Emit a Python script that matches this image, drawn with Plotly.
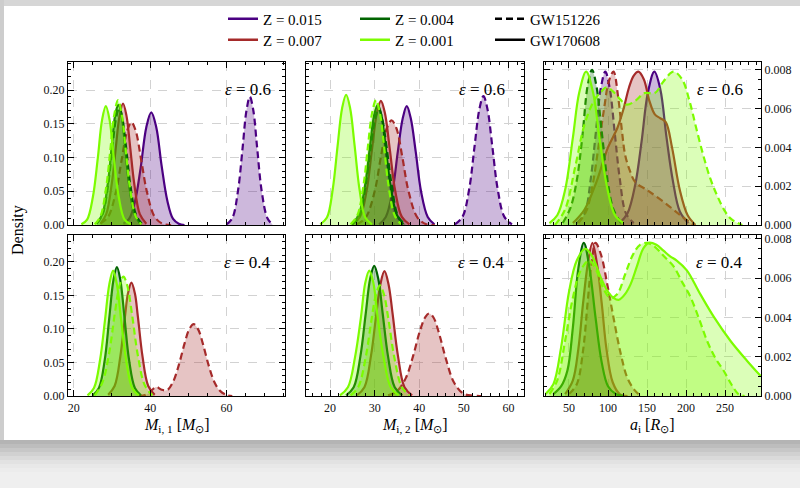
import plotly.graph_objects as go

# ---------------------------------------------------------------------------
# KDE curves, sampled as (x, density) pairs.
# panel keys: m1 = M_i,1, m2 = M_i,2, a = a_i ; e6 / e4 = epsilon 0.6 / 0.4
# metallicity keys: z015, z007, z004, z001 ; d = GW151226, s = GW170608
# ---------------------------------------------------------------------------

# ---- M_i,1, epsilon = 0.6 ----
m1_e6_z015_s_x = [33, 34.5, 36, 37.5, 39, 40.3, 41.6, 43, 44.5, 46, 47.5, 49]
m1_e6_z015_s_y = [0.002, 0.009, 0.034, 0.084, 0.145, 0.167, 0.145, 0.088, 0.036, 0.009, 0.002, 0.0]
m1_e6_z015_d_x = [60, 61.5, 63, 64.2, 65.2, 66.1, 67, 68, 69.2, 70.7, 72]
m1_e6_z015_d_y = [0.001, 0.010, 0.051, 0.114, 0.169, 0.190, 0.170, 0.115, 0.050, 0.010, 0.001]
m1_e6_z007_s_x = [27, 28.5, 30, 31, 32, 32.9, 33.8, 34.8, 35.8, 37.3, 39]
m1_e6_z007_s_y = [0.002, 0.016, 0.063, 0.114, 0.162, 0.180, 0.162, 0.114, 0.063, 0.016, 0.002]
m1_e6_z007_d_x = [27, 29, 31, 32.5, 34, 35.1, 36.2, 37.7, 39.2, 41.2, 43.2, 45.5]
m1_e6_z007_d_y = [0.002, 0.012, 0.048, 0.095, 0.140, 0.152, 0.140, 0.095, 0.048, 0.012, 0.002, 0.0]
m1_e6_z004_s_x = [26, 27.5, 29, 30, 31, 31.7, 32.4, 33.4, 34.4, 35.9, 37.4]
m1_e6_z004_s_y = [0.002, 0.016, 0.064, 0.119, 0.167, 0.178, 0.167, 0.119, 0.064, 0.016, 0.002]
m1_e6_z004_d_x = [26, 27.5, 29, 30.2, 31.1, 31.9, 32.7, 33.6, 34.8, 36.3, 37.8]
m1_e6_z004_d_y = [0.002, 0.015, 0.060, 0.120, 0.159, 0.173, 0.159, 0.120, 0.060, 0.015, 0.002]
m1_e6_z001_s_x = [22, 23.5, 25, 26.3, 27.4, 28.4, 29.4, 30.5, 31.8, 33.3, 35]
m1_e6_z001_s_y = [0.001, 0.008, 0.041, 0.099, 0.155, 0.176, 0.155, 0.099, 0.041, 0.008, 0.001]
m1_e6_z001_d_x = [25.5, 27, 28.5, 29.6, 30.6, 31.6, 32.6, 33.6, 34.7, 36.2, 37.7]
m1_e6_z001_d_y = [0.001, 0.013, 0.056, 0.112, 0.163, 0.185, 0.163, 0.112, 0.056, 0.013, 0.001]

# ---- M_i,2, epsilon = 0.6 ----
m2_e6_z015_s_x = [31, 32.5, 34, 35.2, 36.3, 37.2, 38.1, 39.2, 40.4, 41.9, 43.4]
m2_e6_z015_s_y = [0.001, 0.012, 0.050, 0.109, 0.158, 0.176, 0.158, 0.109, 0.050, 0.012, 0.001]
m2_e6_z015_d_x = [48, 49.7, 51.2, 52.4, 53.5, 54.4, 55.3, 56.4, 57.6, 59.1, 60.8]
m2_e6_z015_d_y = [0.001, 0.012, 0.053, 0.116, 0.172, 0.191, 0.172, 0.116, 0.053, 0.012, 0.001]
m2_e6_z007_s_x = [25, 26.7, 28.2, 29.4, 30.5, 31.4, 32.3, 33.4, 34.6, 36.1, 37.8]
m2_e6_z007_s_y = [0.001, 0.012, 0.051, 0.112, 0.166, 0.184, 0.166, 0.112, 0.051, 0.012, 0.001]
m2_e6_z007_d_x = [26, 28, 30, 31.4, 32.7, 33.8, 34.9, 36.2, 37.6, 39.6, 41.6, 43.5]
m2_e6_z007_d_y = [0.001, 0.011, 0.050, 0.101, 0.143, 0.155, 0.143, 0.101, 0.050, 0.011, 0.001, 0.0]
m2_e6_z004_s_x = [25, 26.5, 28, 29, 29.9, 30.7, 31.5, 32.4, 33.4, 34.9, 36.4]
m2_e6_z004_s_y = [0.001, 0.016, 0.065, 0.119, 0.163, 0.178, 0.163, 0.119, 0.065, 0.016, 0.001]
m2_e6_z004_d_x = [24.9, 26.5, 28, 29.2, 30.1, 30.9, 31.7, 32.6, 33.8, 35.3, 36.9]
m2_e6_z004_d_y = [0.001, 0.012, 0.060, 0.119, 0.157, 0.172, 0.157, 0.119, 0.060, 0.012, 0.001]
m2_e6_z001_s_x = [17.8, 19.3, 20.6, 21.7, 22.7, 23.6, 24.5, 25.5, 26.6, 27.9, 29.4]
m2_e6_z001_s_y = [0.001, 0.011, 0.053, 0.118, 0.173, 0.193, 0.173, 0.118, 0.053, 0.011, 0.001]
m2_e6_z001_d_x = [24.6, 26.1, 27.5, 28.5, 29.4, 30.3, 31.2, 32.1, 33.1, 34.5, 36]
m2_e6_z001_d_y = [0.001, 0.014, 0.059, 0.117, 0.165, 0.185, 0.165, 0.117, 0.059, 0.014, 0.001]

# ---- a_i, epsilon = 0.6 ----
a_e6_z015_s_x = [115, 125, 135, 143, 151, 159.4, 167, 175, 183, 192, 203]
a_e6_z015_s_y = [0.0001, 0.0006, 0.0021, 0.0043, 0.0068, 0.0079, 0.0070, 0.0045, 0.0023, 0.0007, 0.0001]
a_e6_z015_d_x = [60, 70, 78, 84, 91, 96.5, 102, 109, 115, 123, 133]
a_e6_z015_d_y = [0.0001, 0.0006, 0.0024, 0.0046, 0.0071, 0.0079, 0.0071, 0.0046, 0.0024, 0.0006, 0.0001]
a_e6_z007_s_x = [55, 70, 85, 100, 112, 120, 127, 133, 139, 146, 153, 160, 167, 174, 182, 192, 202, 212]
a_e6_z007_s_y = [0.0001, 0.0008, 0.0022, 0.0040, 0.0050, 0.0060, 0.0071, 0.0077, 0.0079, 0.0075,
                 0.0064, 0.0057, 0.0055, 0.0053, 0.0040, 0.0018, 0.0005, 0.0]
a_e6_z007_d_x = [62, 72, 80, 88, 95, 101, 107, 113, 118, 122, 128, 135, 150, 171, 193, 210]
a_e6_z007_d_y = [0.0001, 0.0007, 0.0020, 0.0041, 0.0060, 0.0074, 0.0079, 0.0066, 0.0048, 0.0036,
                 0.0028, 0.0022, 0.0018, 0.0012, 0.0005, 0.0]
a_e6_z004_d_x = [42, 52, 60, 67, 74, 79.5, 85, 92, 99, 107, 117]
a_e6_z004_d_y = [0.0001, 0.0009, 0.0023, 0.0045, 0.0072, 0.0080, 0.0072, 0.0048, 0.0024, 0.0008, 0.0001]
a_e6_z001_s_x = [25, 35, 45, 55, 63, 72, 81, 89, 99, 109, 120]
a_e6_z001_s_y = [0.0001, 0.0005, 0.0018, 0.0045, 0.0068, 0.0079, 0.0068, 0.0045, 0.0019, 0.0005, 0.0001]
a_e6_z001_d_x = [32, 45, 58, 70, 82, 92, 98, 106, 115, 124, 135, 147, 160, 171, 184, 195,
                 205, 213, 222, 231, 240, 250, 258, 272]
a_e6_z001_d_y = [0.0, 0.0008, 0.0030, 0.0052, 0.0064, 0.0069, 0.0071, 0.0069, 0.0065, 0.0062,
                 0.0064, 0.0068, 0.0068, 0.0074, 0.0079, 0.0075, 0.0063, 0.0050, 0.0036, 0.0024,
                 0.0015, 0.0007, 0.0003, 0.0]

# ---- M_i,1, epsilon = 0.4 ----
m1_e4_z007_s_x = [29, 30.7, 32.2, 33.4, 34.2, 35.1, 36, 36.8, 38, 39.5, 41.2]
m1_e4_z007_s_y = [0.002, 0.015, 0.059, 0.118, 0.153, 0.169, 0.153, 0.118, 0.059, 0.015, 0.002]
m1_e4_z007_d_x = [37, 39, 40.5, 41.6, 43, 44.5, 46, 47.5, 49, 50.2, 51.4, 52.6, 53.8, 55.3,
                  56.8, 58.3, 60, 61.5]
m1_e4_z007_d_y = [0.0, 0.002, 0.009, 0.0135, 0.0093, 0.0088, 0.021, 0.046, 0.078, 0.099, 0.107,
                  0.099, 0.078, 0.046, 0.021, 0.0076, 0.0015, 0.0]
m1_e4_z004_s_x = [25, 26.6, 28.1, 29.3, 30.4, 31.3, 32.2, 33.3, 34.5, 36, 37.6]
m1_e4_z004_s_y = [0.001, 0.012, 0.053, 0.116, 0.173, 0.192, 0.173, 0.116, 0.053, 0.012, 0.001]
m1_e4_z001_s_x = [23.6, 25.3, 26.9, 28.2, 29.3, 30.3, 31.3, 32.4, 33.7, 35.3, 37]
m1_e4_z001_s_y = [0.001, 0.012, 0.054, 0.114, 0.166, 0.187, 0.166, 0.114, 0.054, 0.012, 0.001]
m1_e4_z001_d_x = [25.5, 27.5, 29.3, 30.8, 32, 33, 34, 35.3, 36.8, 38.6, 40.6]
m1_e4_z001_d_y = [0.001, 0.020, 0.065, 0.125, 0.165, 0.178, 0.165, 0.120, 0.060, 0.016, 0.001]

# ---- M_i,2, epsilon = 0.4 ----
m2_e4_z007_s_x = [26, 27.7, 29.2, 30.4, 31.3, 32.2, 33.1, 34, 35.2, 36.7, 38.4]
m2_e4_z007_s_y = [0.001, 0.013, 0.061, 0.124, 0.167, 0.186, 0.167, 0.124, 0.061, 0.013, 0.001]
m2_e4_z007_d_x = [33, 35, 37, 38.6, 40.2, 41.4, 42.2, 43.2, 44.5, 46, 47.8, 49.8, 52, 54]
m2_e4_z007_d_y = [0.001, 0.007, 0.027, 0.059, 0.098, 0.118, 0.123, 0.117, 0.092, 0.055, 0.020,
                  0.004, 0.0005, 0.0]
m2_e4_z004_s_x = [23.6, 25.3, 26.8, 28, 29, 29.9, 30.8, 31.8, 33, 34.5, 36.2]
m2_e4_z004_s_y = [0.001, 0.013, 0.059, 0.123, 0.175, 0.194, 0.175, 0.123, 0.059, 0.013, 0.001]
m2_e4_z001_s_x = [22.2, 24, 25.6, 26.9, 27.9, 28.8, 29.7, 30.7, 32, 33.6, 35.4]
m2_e4_z001_s_y = [0.001, 0.013, 0.058, 0.116, 0.169, 0.187, 0.169, 0.116, 0.058, 0.013, 0.001]
m2_e4_z001_d_x = [24.6, 26.3, 28, 29.3, 30.3, 31.2, 32.1, 33.1, 34.4, 36.1, 37.8]
m2_e4_z001_d_y = [0.001, 0.013, 0.058, 0.114, 0.151, 0.165, 0.151, 0.114, 0.058, 0.013, 0.001]

# ---- a_i, epsilon = 0.4 ----
a_e4_z007_s_x = [45, 55, 62, 68, 74, 80, 86, 92, 98, 106, 115, 125]
a_e4_z007_s_y = [0.0001, 0.0008, 0.0024, 0.0047, 0.0067, 0.0078, 0.0067, 0.0047, 0.0024, 0.0007, 0.0001, 0.0]
a_e4_z007_d_x = [50, 60, 68, 74, 79, 84, 91, 99, 107, 116, 125, 134, 142]
a_e4_z007_d_y = [0.0001, 0.0006, 0.0023, 0.0048, 0.0068, 0.0078, 0.0072, 0.0057, 0.0040, 0.0022,
                 0.0009, 0.0003, 0.0]
a_e4_z004_s_x = [30, 40, 48, 55, 62, 69, 76, 84, 92, 100, 110, 120]
a_e4_z004_s_y = [0.0001, 0.0005, 0.0013, 0.0035, 0.0065, 0.0078, 0.0066, 0.0040, 0.0017, 0.0005, 0.0001, 0.0]
a_e4_z001_s_x = [20, 30, 40, 50, 60, 71, 80, 90, 100, 107, 114, 122, 129, 137, 145, 152, 162,
                 171, 180, 188, 201, 218, 236, 257, 278, 296]
a_e4_z001_s_y = [0.0001, 0.0006, 0.0025, 0.0053, 0.0069, 0.0075, 0.0071, 0.0061, 0.0053, 0.0050,
                 0.0049, 0.0052, 0.0057, 0.0066, 0.0075, 0.0078, 0.0077, 0.0074, 0.0071, 0.0069,
                 0.0064, 0.0052, 0.0040, 0.0028, 0.0018, 0.0010]
a_e4_z001_d_x = [25, 35, 45, 55, 65, 76, 85, 95, 103, 112, 122, 132, 141, 150, 160, 172, 184,
                 195, 205, 216, 227, 238, 248, 258, 267, 275]
a_e4_z001_d_y = [0.0001, 0.0008, 0.0028, 0.0050, 0.0064, 0.0069, 0.0064, 0.0054, 0.0050, 0.0052,
                 0.0062, 0.0072, 0.0077, 0.0078, 0.0076, 0.0071, 0.0066, 0.0058, 0.0051, 0.0040,
                 0.0028, 0.0019, 0.0013, 0.0006, 0.0001, 0.0]

# legend / category labels
z_keys = ["z015", "z007", "z004", "z001"]
z_labels = ["Z = 0.015", "Z = 0.007", "Z = 0.004", "Z = 0.001"]
event_labels = ["GW151226", "GW170608"]
eps_labels = ["0.6", "0.4"]
x_titles = ["<i>M</i><sub>i, 1</sub> [<i>M</i><sub>⊙</sub>]",
            "<i>M</i><sub>i, 2</sub> [<i>M</i><sub>⊙</sub>]",
            "<i>a</i><sub>i</sub> [<i>R</i><sub>⊙</sub>]"]

# ---------------------------------------------------------------------------
# styling
# ---------------------------------------------------------------------------
W, H = 800, 488
SERIF = "Liberation Serif, Times New Roman, serif"
z_colors = {"z015": (75, 0, 130), "z007": (165, 42, 42), "z004": (0, 100, 0), "z001": (124, 252, 0)}
FILL_ALPHA = 0.28


def rgba(c, a=1.0):
    return "rgba(%d,%d,%d,%.3f)" % (c[0], c[1], c[2], a)


def fx(p):          # pixel -> paper x
    return p / W


def fy(p):          # pixel -> paper y
    return 1 - p / H


col_px = [(68, 285), (306, 524), (544, 761)]
row_px = [(62, 225), (235, 396)]

# panel name -> (row, col)
panels = {"m1_e6": (0, 0), "m2_e6": (0, 1), "a_e6": (0, 2),
          "m1_e4": (1, 0), "m2_e4": (1, 1), "a_e4": (1, 2)}

g = globals()
fig = go.Figure()

for pname, (r, c) in panels.items():
    idx = r * 3 + c + 1
    xa = "x" if idx == 1 else "x%d" % idx
    ya = "y" if idx == 1 else "y%d" % idx
    for zk in z_keys:
        for ev in ["d", "s"]:
            key = "%s_%s_%s" % (pname, zk, ev)
            if key + "_x" not in g:
                continue
            col = z_colors[zk]
            fig.add_trace(go.Scatter(
                x=g[key + "_x"], y=g[key + "_y"], xaxis=xa, yaxis=ya,
                mode="lines", line=dict(color=rgba(col), width=2.2, shape="spline", smoothing=1.0,
                                        dash="7px,4px" if ev == "d" else "solid"),
                fill="tozeroy", fillcolor=rgba(col, FILL_ALPHA),
                showlegend=False, hoverinfo="skip"))

# legend entries: one single-item legend per slot (3 columns x 2 rows)
legend_items = [
    (z_labels[0], rgba(z_colors["z015"]), "solid", 223, 19),
    (z_labels[1], rgba(z_colors["z007"]), "solid", 223, 40),
    (z_labels[2], rgba(z_colors["z004"]), "solid", 355, 19),
    (z_labels[3], rgba(z_colors["z001"]), "solid", 355, 40),
    (event_labels[0], "black", "7px,4px", 490, 19),
    (event_labels[1], "black", "solid", 490, 40),
]
legend_layout = {}
for i, (name, colr, dash, lx, ly) in enumerate(legend_items):
    lg = "legend" if i == 0 else "legend%d" % (i + 1)
    fig.add_trace(go.Scatter(x=[None], y=[None], mode="lines", name=name, legend=lg,
                             line=dict(color=colr, width=2.5, dash=dash)))
    legend_layout[lg] = dict(orientation="v", xanchor="left", yanchor="middle",
                             x=fx(lx), y=fy(ly), bgcolor="rgba(0,0,0,0)",
                             font=dict(family=SERIF, size=15, color="black"),
                             itemwidth=30, borderwidth=0)

# axes
xranges = [[18.5, 75.3], [14.6, 63.5], [18, 296]]
xdticks = [20, 10, 50]
xminor = [5, 2, 10]
yranges = [[[0, 0.2415], [0, 0.2415], [0, 0.0084]],
           [[0, 0.24], [0, 0.24], [0, 0.0082]]]

tickfont = dict(family=SERIF, size=12, color="#111")
layout_axes = {}
for r in range(2):
    for c in range(3):
        idx = r * 3 + c + 1
        xn = "xaxis" if idx == 1 else "xaxis%d" % idx
        yn = "yaxis" if idx == 1 else "yaxis%d" % idx
        xa = "x" if idx == 1 else "x%d" % idx
        ya = "y" if idx == 1 else "y%d" % idx
        common = dict(showline=True, linecolor="black", linewidth=1.3, mirror="allticks",
                      ticks="inside", ticklen=6, tickwidth=1, tickcolor="black",
                      showgrid=True, gridcolor="#d2d2d2", griddash="dash", gridwidth=0.8,
                      zeroline=False, automargin=False, tickfont=tickfont)
        layout_axes[xn] = dict(common, anchor=ya, domain=[fx(col_px[c][0]), fx(col_px[c][1])],
                               range=xranges[c], dtick=xdticks[c], tick0=0,
                               showticklabels=(r == 1),
                               minor=dict(dtick=xminor[c], tick0=0, ticks="inside", ticklen=3,
                                          tickcolor="black", showgrid=False))
        right = (c == 2)
        layout_axes[yn] = dict(common, anchor=xa,
                               domain=[fy(row_px[r][1]), fy(row_px[r][0])],
                               range=yranges[r][c],
                               dtick=0.002 if right else 0.05, tick0=0,
                               tickformat=".3f" if right else ".2f",
                               side="right" if right else "left",
                               showticklabels=(c != 1),
                               minor=dict(dtick=0.0005 if right else 0.01, tick0=0, ticks="inside",
                                          ticklen=3, tickcolor="black", showgrid=False))

annotations = []
# epsilon labels inside each panel
eps_xpos = [0.945, 0.922, 0.926]
for r in range(2):
    for c in range(3):
        idx = r * 3 + c + 1
        suffix = "" if idx == 1 else str(idx)
        annotations.append(dict(
            text="<i>ε</i> = " + eps_labels[r], xref="x%s domain" % suffix, yref="y%s domain" % suffix,
            x=eps_xpos[c], y=0.83, xanchor="right", yanchor="middle", showarrow=False,
            font=dict(family=SERIF, size=17, color="black")))
# axis titles
for c in range(3):
    annotations.append(dict(text=x_titles[c], xref="paper", yref="paper",
                            x=fx((col_px[c][0] + col_px[c][1]) / 2), y=fy(425),
                            xanchor="center", yanchor="middle", showarrow=False,
                            font=dict(family=SERIF, size=16, color="black")))
annotations.append(dict(text="Density", xref="paper", yref="paper", x=fx(18), y=fy(230),
                        textangle=-90, xanchor="center", yanchor="middle", showarrow=False,
                        font=dict(family=SERIF, size=16, color="black")))

# card shadow around the figure
shapes = []


def band(x0, y0, x1, y1, color):
    shapes.append(dict(type="rect", xref="paper", yref="paper", x0=fx(x0), x1=fx(x1),
                       y0=fy(y1), y1=fy(y0), fillcolor=color, line=dict(width=0), layer="below"))


band(0, 0, W, 6, "#d6d6d6")
band(0, 0, 4, 440, "#cdcdcd")
shade = ["#b4b4b4", "#bdbdbd", "#c7c7c7", "#d1d1d1", "#dadada", "#e2e2e2", "#e8e8e8", "#ececec"]
y = 440
for colr in shade:
    band(0, y, W, y + 4, colr)
    y += 4
band(0, y, W, H, "#efefef")

fig.update_layout(
    width=W, height=H, margin=dict(l=0, r=0, t=0, b=0),
    font=dict(family=SERIF, size=12, color="black"),
    paper_bgcolor="white", plot_bgcolor="white",
    annotations=annotations, shapes=shapes,
    **legend_layout, **layout_axes)

fig.write_html("out.html")
